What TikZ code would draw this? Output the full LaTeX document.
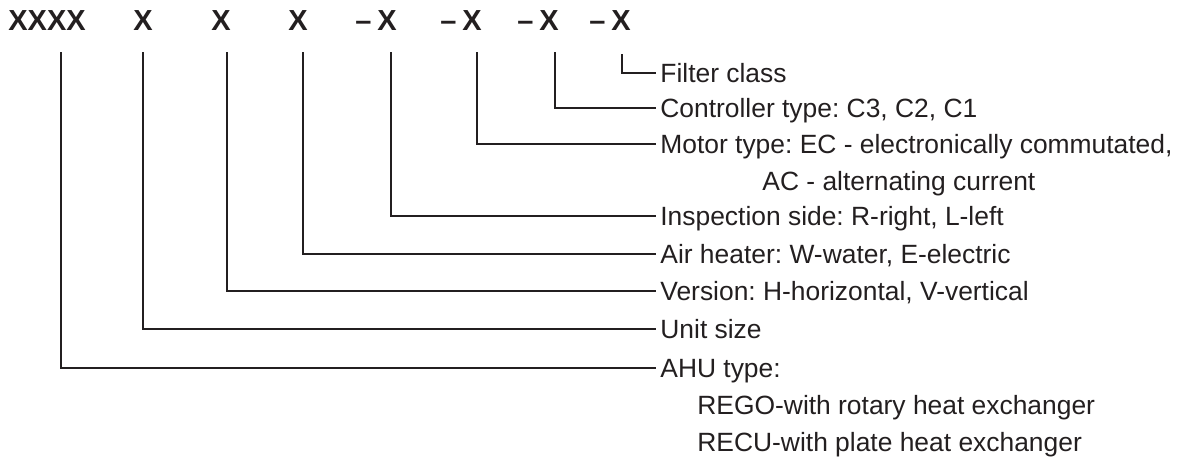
\documentclass[tikz,border=0pt]{standalone}
\usepackage{fontspec}
\setmainfont{Liberation Sans}
\frenchspacing
\definecolor{ink}{RGB}{35,31,32}
\tikzset{
  code/.style={inner sep=0pt, text=ink, font=\bfseries\fontsize{14.5}{17}\selectfont},
  desc/.style={anchor=west, inner sep=2pt, text=ink, text height=9.5pt, text depth=0pt,
    font=\fontsize{13.2}{16}\selectfont},
  lead/.style={line width=1.25pt, draw=ink},
}

\begin{document}
\begin{tikzpicture}[x=0.5pt,y=-0.5pt]
			\useasboundingbox (0,0) rectangle (1183,462);
			%%%%% CODE %%%%%
			
			\node[code] (cahu) at (47,21) {XXXX};
			\node[code] (csize) at (143,21) {X};
			\node[code] (cvers) at (221,21) {X};
			\node[code] (cheat) at (298,21) {X};
			\node[code] (cinsp) at (376,21) {–\hspace{3pt}X};
			\node[code] (cmotor) at (461,21) {–\hspace{3pt}X};
			\node[code] (cctrl) at (538,21) {–\hspace{3pt}X};
			\node[code] (cfilter) at (610,21) {–\hspace{3pt}X};
			
			\coordinate (tahu) at (61,52);
			\coordinate (tsize) at (143,52);
			\coordinate (tvers) at (227,52);
			\coordinate (theat) at (303,52);
			\coordinate (tinsp) at (391,52);
			\coordinate (tmotor) at (477,52);
			\coordinate (tctrl) at (555,52);
			\coordinate (tfilter) at (622,54);
			
			%%%%% LABELS %%%%%
			
			\node[desc] (filter) at (656,73) {Filter class};
			\node[desc] (ctrl) at (656,108) {Controller type: C3, C2, C1};
			\node[desc] (motor) at (656,144) {Motor type: EC - electronically commutated,};
			\node[desc] (motorb) at (758,181) {AC - alternating current};
			\node[desc] (insp) at (656,216) {Inspection side: R-right, L-left};
			\node[desc] (heat) at (656,254) {Air heater: W-water, E-electric};
			\node[desc] (vers) at (656,291) {Version: H-horizontal, V-vertical};
			\node[desc] (size) at (656,329) {Unit size};
			\node[desc] (ahu) at (656,368) {AHU type:};
			\node[desc] (rego) at (693,405) {REGO-with rotary heat exchanger};
			\node[desc] (recu) at (693,442) {RECU-with plate heat exchanger};
			
			%%%%% LEADERS %%%%%
			
			\draw[lead] (tfilter) |- (filter.west);
			\draw[lead] (tctrl) |- (ctrl.west);
			\draw[lead] (tmotor) |- (motor.west);
			\draw[lead] (tinsp) |- (insp.west);
			\draw[lead] (theat) |- (heat.west);
			\draw[lead] (tvers) |- (vers.west);
			\draw[lead] (tsize) |- (size.west);
			\draw[lead] (tahu) |- (ahu.west);
			
		\end{tikzpicture}
\end{document}
